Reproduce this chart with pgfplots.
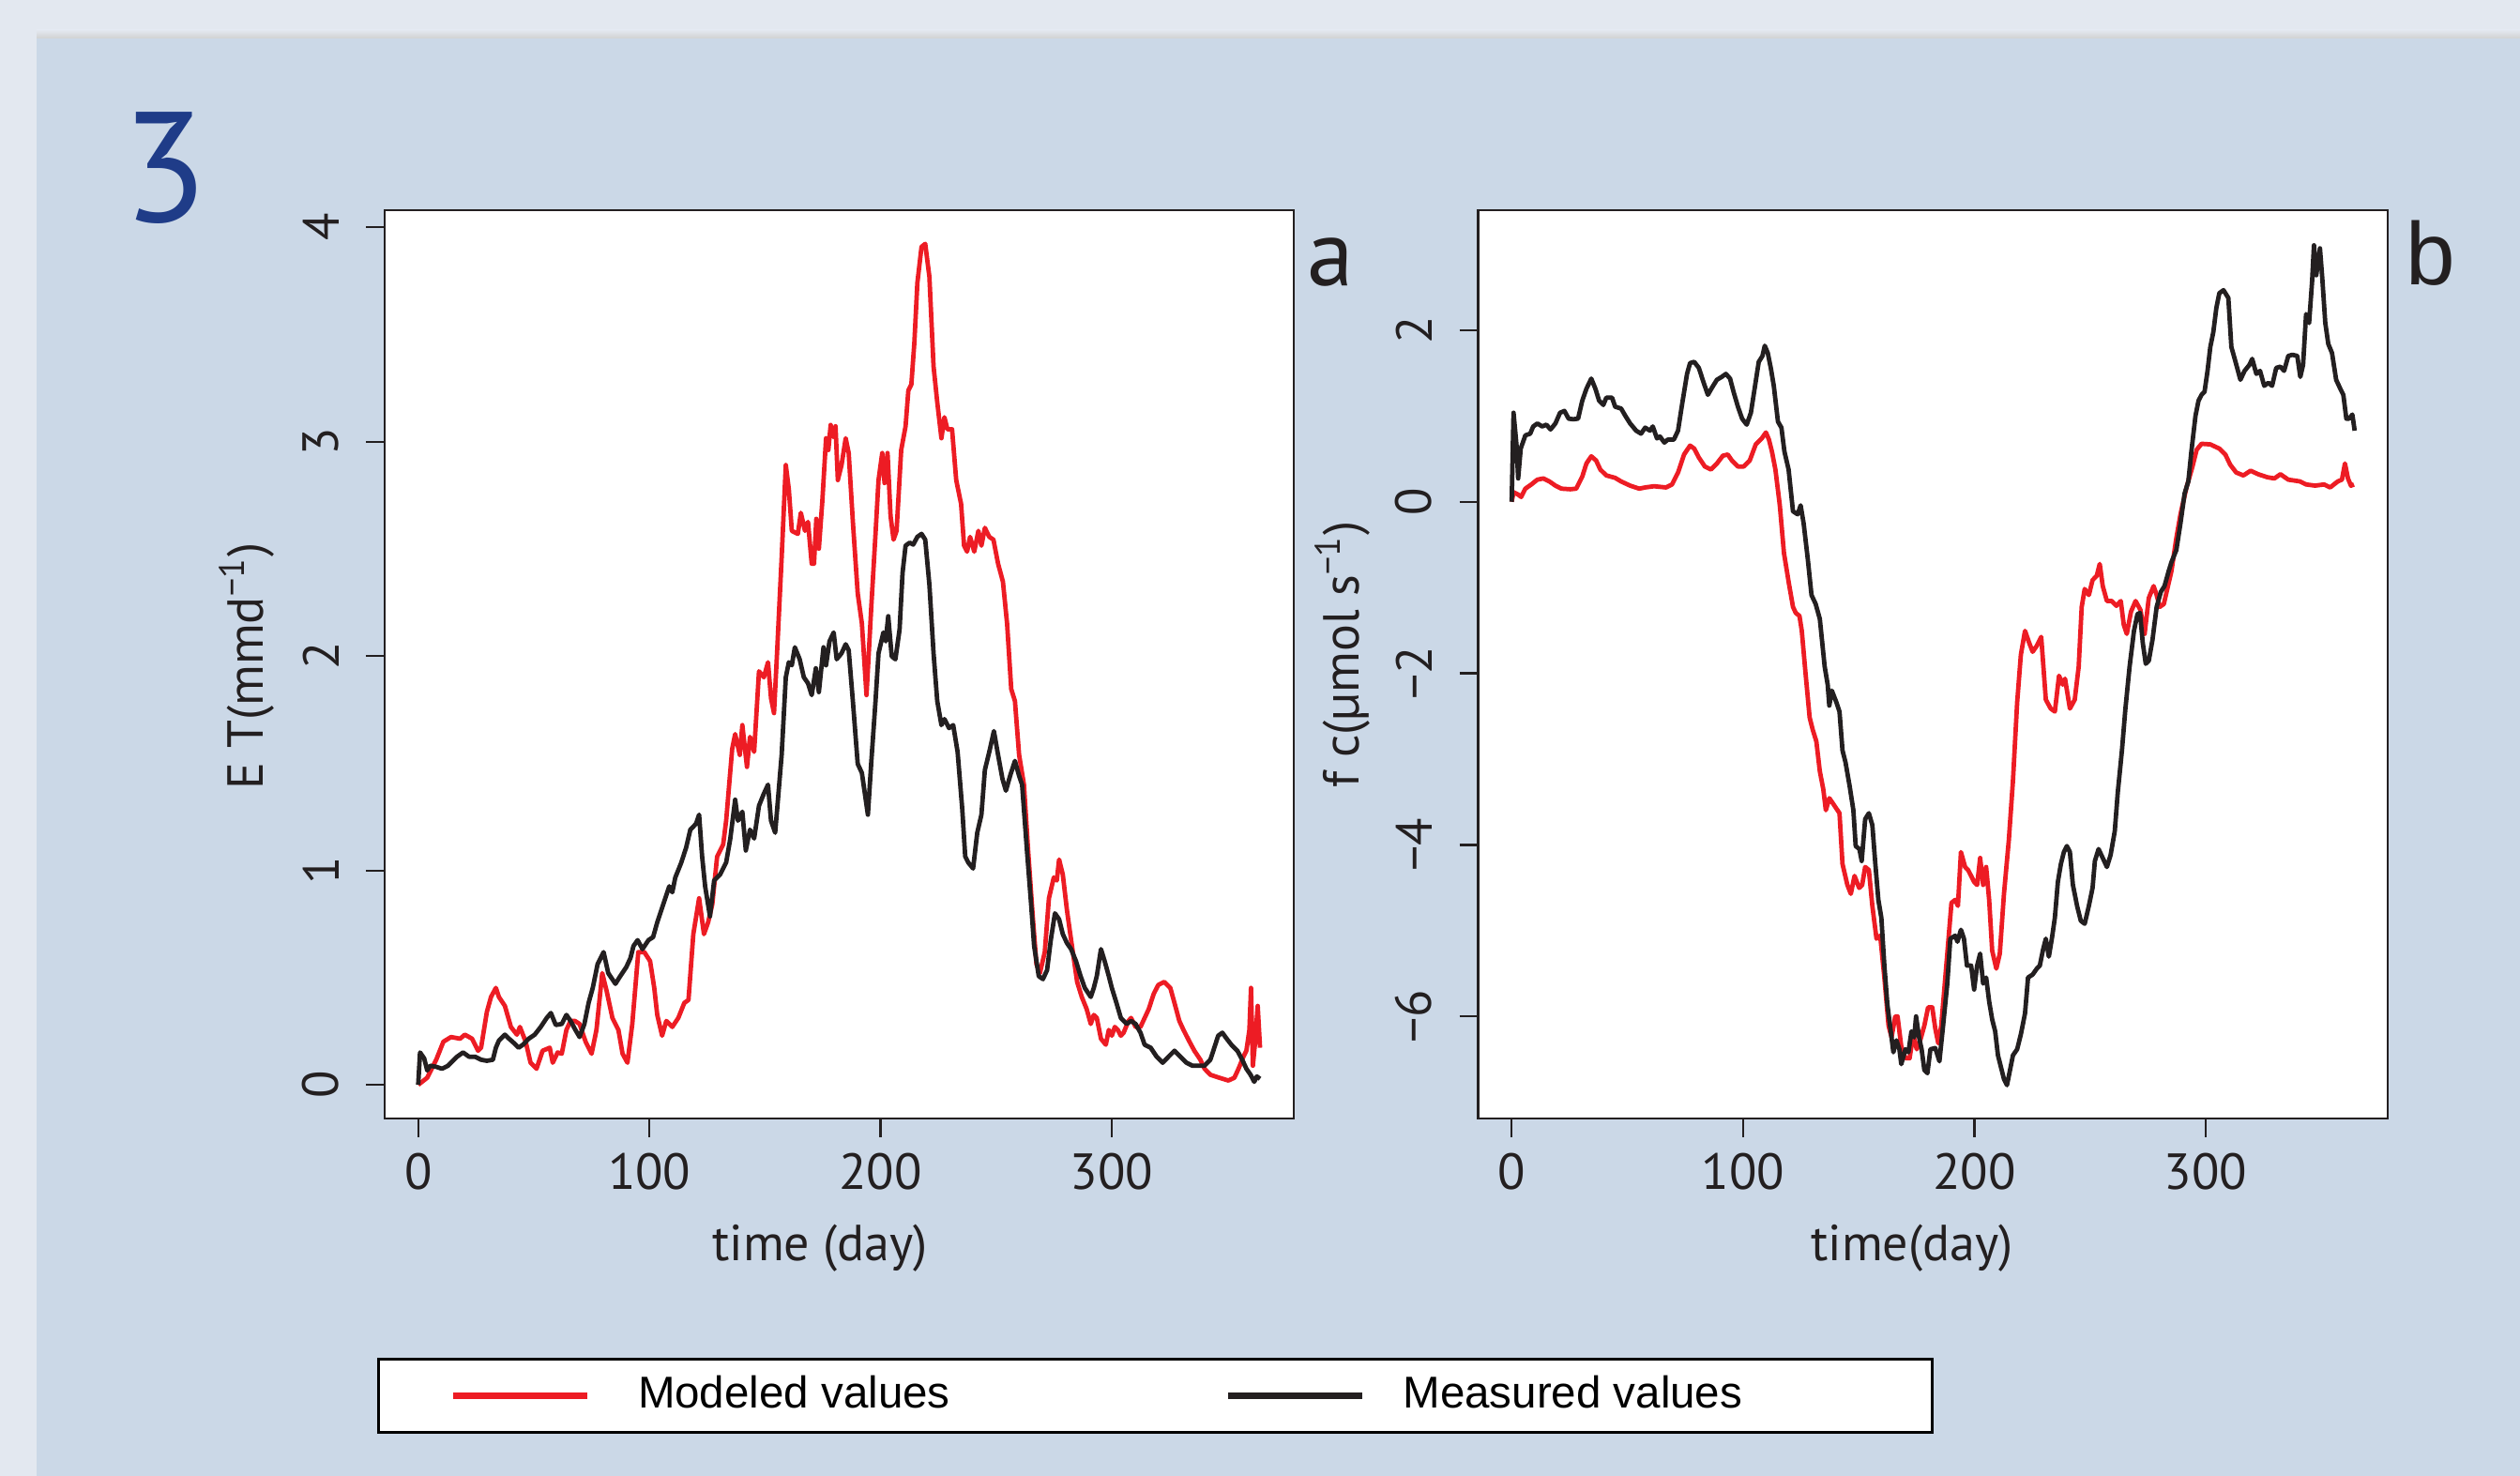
\documentclass[border=0pt]{standalone}
\usepackage{fontspec}
\setmainfont{PT Sans}
\newfontfamily\helv{Liberation Sans}
\usepackage{pgfplots}
\pgfplotsset{compat=1.18}

\definecolor{panelblue}{HTML}{CBD8E7}
\definecolor{outergray}{HTML}{E3E8F0}
\definecolor{modred}{HTML}{ED1C24}
\definecolor{measblack}{HTML}{231F20}
\definecolor{numblue}{HTML}{1F3C88}

\pgfplotsset{
  panel/.style={
    scale only axis, width=193.8pt, height=193.6pt,
    anchor=south west,
    axis background/.style={fill=white},
    axis line style={line width=0.5pt, measblack},
    tick align=outside, major tick length=4pt,
    tick style={line width=0.45pt, measblack},
    xtick pos=left, ytick pos=left,
    xmin=-14.5, xmax=378.7, xtick={0,100,200,300},
    /pgf/number format/assume math mode=true,
    ticklabel style={font=\fontsize{10.8}{12}\selectfont, text=measblack},
    xticklabel style={inner sep=0pt, anchor=north},
    xticklabel shift=3.2pt,
    yticklabel style={rotate=90, anchor=south, inner sep=0pt},
    yticklabel shift=5.6pt,
    label style={font=\fontsize{10.8}{12}\selectfont, text=measblack, inner sep=0pt},
  }
}

\begin{document}
\begin{tikzpicture}
\useasboundingbox (0,0) rectangle (537.2pt,314.6pt);
\fill[outergray] (0,0) rectangle (537.2pt,314.6pt);
\shade[top color=outergray, bottom color=black!18] (7.8pt,306.4pt) rectangle (537.2pt,308.2pt);
\fill[panelblue] (7.8pt,0) rectangle (537.2pt,306.4pt);

% panel a: ET
\begin{axis}[panel, at={(82pt,76.2pt)},
    ymin=-0.157, ymax=4.08, ytick={0,1,2,3,4},
    xlabel={time (day)},
    xlabel style={at={(axis description cs:0.479,-0.157)}, anchor=base},
    ylabel={E T(mmd\textsuperscript{−1})},
    ylabel style={at={(axis description cs:-0.134,0.498)}, rotate=0, anchor=base},
    legend columns=2,
    legend cell align=left,
    legend image code/.code={\draw[#1, line width=1.3pt] (0pt,0pt) -- (28.6pt,0pt);},
    legend style={at={(-0.00826,-0.2634)}, anchor=north west, draw=black,
      line width=0.6pt, fill=white, inner xsep=15.2pt, inner ysep=3.6pt,
      font=\helv\fontsize{9.5}{11}\selectfont, nodes={inner sep=0pt},
      /tikz/every odd column/.append style={column sep=10.2pt},
      /tikz/every even column/.append style={column sep=26.6pt}},
  ]
\addplot[modred, line width=0.95pt, line join=round] coordinates {
(0,0) (3.9,0.033) (7.8,0.117) (10.9,0.201) (14.2,0.223) (18.1,0.215) (20.2,0.234) (23.3,0.215) (25.9,0.159) (27.2,0.173)
(29.7,0.340) (31.5,0.410) (33.6,0.452) (34.9,0.410) (37.5,0.368) (40.1,0.270) (42.7,0.234) (44.0,0.270) (46.5,0.201) (48.6,0.103)
(51.2,0.075) (53.8,0.159) (56.9,0.173) (58.2,0.103) (60.3,0.151) (62.1,0.145) (64.1,0.256) (65.9,0.298) (67.8,0.298) (69.8,0.284)
(72.4,0.201) (75.0,0.145) (77.1,0.256) (79.6,0.521) (81.5,0.438) (84.0,0.312) (86.6,0.256) (88.4,0.145) (90.5,0.103) (92.6,0.284)
(95.2,0.619) (97.8,0.619) (100.3,0.577) (102.1,0.452) (103.4,0.326) (105.5,0.229) (107.3,0.298) (109.9,0.270) (112.5,0.312) (115.1,0.382)
(116.9,0.396) (119.0,0.703) (121.5,0.870) (123.6,0.703) (125.4,0.758) (127.2,0.842) (129.3,1.065) (131.9,1.121) (133.2,1.232) (135.8,1.567)
(137.1,1.636) (139.1,1.539) (140.2,1.678) (142.2,1.483) (143.5,1.623) (145.3,1.553) (147.4,1.929) (149.5,1.901) (151.3,1.971) (152.6,1.804)
(153.9,1.734) (155.2,2.013) (157.2,2.459) (159.0,2.891) (160.3,2.779) (161.6,2.584) (164.2,2.570) (165.5,2.668) (167.3,2.584) (168.6,2.626)
(170.2,2.431) (171.2,2.431) (172.2,2.640) (173.3,2.501) (174.8,2.724) (176.4,3.016) (177.4,2.961) (178.4,3.078) (179.5,3.022) (180.5,3.072)
(181.5,2.821) (183.1,2.891) (184.9,3.016) (186.2,2.947) (188.0,2.626) (190.1,2.292) (191.9,2.152) (193.9,1.818) (196.0,2.236) (197.8,2.570)
(199.1,2.821) (200.7,2.947) (201.7,2.807) (203.0,2.947) (204.3,2.654) (205.6,2.543) (206.9,2.584) (208.9,2.961) (210.8,3.072) (212.0,3.239)
(213.3,3.267) (214.6,3.463) (215.9,3.741) (217.7,3.909) (219.3,3.923) (221.1,3.769) (222.9,3.351) (224.5,3.184) (226.3,3.016) (227.6,3.114)
(228.9,3.058) (230.9,3.058) (232.7,2.821) (234.8,2.710) (236.1,2.515) (237.4,2.487) (238.7,2.556) (240.5,2.487) (242.3,2.584) (243.6,2.515)
(245.1,2.598) (247.0,2.556) (248.8,2.543) (250.8,2.431) (252.9,2.347) (254.7,2.152) (256.5,1.846) (258.1,1.790) (259.9,1.539) (262.0,1.400)
(263.8,1.093) (265.8,0.786) (267.4,0.563) (268.9,0.521) (271.0,0.619) (272.8,0.870) (274.9,0.967) (276.2,0.953) (277.2,1.051) (278.8,0.981)
(280.6,0.814) (282.4,0.675) (285.0,0.480) (287.0,0.410) (289.1,0.354) (290.9,0.284) (292.2,0.326) (293.5,0.312) (295.3,0.215) (297.4,0.187)
(298.7,0.256) (300.0,0.229) (301.3,0.270) (302.6,0.256) (303.9,0.229) (305.1,0.243) (307.2,0.298) (308.3,0.312) (310.3,0.270) (312.4,0.270)
(314.2,0.312) (316.0,0.354) (318.1,0.424) (320.1,0.466) (322.7,0.480) (325.3,0.452) (327.1,0.382) (329.2,0.298) (331.0,0.256) (333.6,0.201)
(335.7,0.159) (338.3,0.117) (340.1,0.075) (342.6,0.047) (346.5,0.033) (350.4,0.020) (353.0,0.033) (354.8,0.075) (356.9,0.131) (358.2,0.159)
(359.5,0.256) (360.2,0.452) (361.0,0.089) (362.0,0.201) (363.1,0.368) (364.1,0.173)
};
\addlegendentry{\makebox[98.6pt][l]{Modeled values}}
\addplot[measblack, line width=0.95pt, line join=round] coordinates {
(0,0) (0.8,0.151) (2.6,0.123) (3.9,0.067) (5.2,0.089) (7.8,0.084) (10.3,0.075) (12.9,0.089) (15.0,0.112) (16.8,0.131)
(19.4,0.151) (22.0,0.131) (24.6,0.131) (27.2,0.117) (29.7,0.112) (32.3,0.117) (33.6,0.173) (34.9,0.206) (37.5,0.234) (39.3,0.215)
(41.4,0.195) (43.4,0.173) (45.3,0.187) (47.8,0.215) (50.4,0.234) (53.0,0.270) (55.6,0.312) (57.4,0.335) (59.5,0.279) (62.1,0.284)
(64.1,0.326) (65.9,0.298) (68.0,0.256) (69.8,0.223) (71.9,0.284) (73.7,0.382) (75.5,0.452) (77.6,0.563) (80.2,0.619) (82.2,0.521)
(85.3,0.471) (87.4,0.507) (90.0,0.549) (91.8,0.591) (93.1,0.647) (94.9,0.675) (97.0,0.633) (99.6,0.675) (101.6,0.689) (103.4,0.758)
(106.0,0.842) (108.6,0.926) (109.9,0.898) (111.2,0.967) (113.8,1.037) (115.9,1.107) (117.7,1.190) (120.2,1.218) (121.5,1.260) (122.8,1.065)
(124.1,0.926) (126.2,0.786) (128.0,0.953) (130.6,0.981) (133.2,1.037) (135.0,1.149) (137.1,1.330) (138.3,1.232) (140.2,1.274) (141.7,1.093)
(143.5,1.190) (145.3,1.149) (147.4,1.302) (149.5,1.358) (151.3,1.400) (152.6,1.232) (154.4,1.176) (155.7,1.344) (157.2,1.539) (159.0,1.901)
(160.3,1.971) (161.6,1.957) (162.9,2.041) (165.0,1.985) (166.8,1.901) (168.6,1.873) (170.2,1.818) (172.0,1.943) (173.3,1.832) (175.3,2.041)
(176.4,1.957) (177.9,2.069) (179.7,2.110) (181.0,1.985) (183.1,2.013) (184.9,2.055) (186.2,2.027) (188.0,1.790) (190.1,1.497) (191.9,1.455)
(194.5,1.260) (196.0,1.511) (197.8,1.790) (199.1,2.013) (201.2,2.110) (202.2,2.069) (203.3,2.186) (204.8,1.999) (206.4,1.985) (208.2,2.124)
(209.5,2.389) (210.8,2.515) (212.6,2.529) (214.1,2.520) (215.9,2.556) (217.7,2.570) (219.3,2.543) (221.1,2.333) (222.9,2.013) (224.5,1.790)
(226.3,1.678) (227.6,1.706) (229.6,1.664) (231.4,1.678) (233.3,1.553) (235.3,1.288) (236.6,1.065) (237.9,1.037) (240.0,1.009) (241.8,1.176)
(243.6,1.260) (245.1,1.469) (247.0,1.553) (249.0,1.650) (250.8,1.539) (252.7,1.427) (254.2,1.372) (256.0,1.441) (258.1,1.511) (259.9,1.441)
(261.2,1.400) (263.3,1.093) (265.1,0.842) (266.4,0.647) (268.4,0.507) (270.2,0.493) (272.0,0.535) (273.6,0.675) (275.4,0.800) (277.2,0.772)
(278.8,0.703) (280.6,0.661) (282.4,0.633) (284.5,0.577) (286.5,0.507) (288.3,0.452) (290.9,0.410) (292.2,0.452) (293.5,0.507) (295.3,0.633)
(296.9,0.577) (298.7,0.507) (300.0,0.452) (302.0,0.382) (303.9,0.312) (306.4,0.284) (308.3,0.298) (310.3,0.284) (312.4,0.243) (314.2,0.187)
(316.8,0.173) (319.4,0.131) (322.0,0.103) (324.5,0.131) (327.1,0.159) (329.7,0.131) (332.3,0.103) (334.9,0.089) (337.5,0.089) (340.1,0.089)
(342.6,0.117) (343.9,0.159) (346.0,0.229) (347.8,0.243) (349.7,0.215) (351.7,0.187) (354.3,0.159) (356.4,0.117) (358.2,0.075) (360.0,0.047)
(361.6,0.014) (362.7,0.039) (364.1,0.028)
};
\addlegendentry{\hspace*{-2.2pt}\makebox[97.6pt][l]{Measured values}}
\end{axis}

% panel b: fc
\begin{axis}[panel, at={(315.1pt,76.2pt)}, width=193.9pt,
    ymin=-7.19, ymax=3.40, ytick={-6,-4,-2,0,2},
    yticklabels={−6,−4,−2,0,2},
    xlabel={time(day)},
    xlabel style={at={(axis description cs:0.477,-0.157)}, anchor=base},
    ylabel={f c(µmol s\textsuperscript{−1})},
    ylabel style={at={(axis description cs:-0.1315,0.511)}, rotate=0, anchor=base},
  ]
\addplot[modred, line width=0.95pt, line join=round] coordinates {
(0,0) (0.8,0.111) (2.8,0.084) (4.1,0.056) (5.9,0.153) (8.5,0.202) (11.1,0.258) (13.7,0.272) (16.3,0.237) (18.9,0.188)
(21.5,0.153) (25.3,0.146) (27.9,0.153) (30.5,0.293) (32.3,0.446) (34.4,0.530) (36.5,0.481) (38.3,0.376) (40.9,0.307) (44.7,0.279)
(47.3,0.237) (51.2,0.188) (55.1,0.153) (57.7,0.167) (61.5,0.181) (66.7,0.167) (69.3,0.202) (71.9,0.341) (74.5,0.551) (77.1,0.655)
(78.9,0.620) (80.9,0.516) (83.5,0.411) (86.1,0.376) (88.7,0.446) (91.3,0.537) (93.4,0.551) (95.2,0.481) (97.8,0.411) (100.3,0.411)
(102.9,0.481) (105.5,0.669) (108.1,0.739) (109.9,0.808) (111.2,0.725) (112.5,0.585) (114.0,0.376) (115.9,-0.042) (117.7,-0.599) (119.8,-0.948)
(121.6,-1.226) (122.8,-1.296) (124.4,-1.331) (125.4,-1.505) (127.0,-1.993) (128.8,-2.516) (130.1,-2.655) (131.7,-2.794) (133.2,-3.143) (134.7,-3.352)
(135.8,-3.596) (137.3,-3.456) (139.1,-3.526) (141.7,-3.631) (143.0,-4.223) (145.1,-4.467) (146.6,-4.571) (148.2,-4.362) (150.2,-4.502) (151.5,-4.467)
(152.8,-4.258) (154.4,-4.293) (155.9,-4.711) (157.7,-5.094) (159.3,-5.059) (161.1,-5.547) (162.9,-6.105) (164.2,-6.244) (165.8,-6.000) (166.8,-6.000)
(168.4,-6.348) (170.2,-6.488) (172.0,-6.488) (173.6,-6.209) (175.1,-6.383) (176.6,-6.279) (178.4,-6.105) (180.0,-5.895) (181.8,-5.895) (183.1,-6.139)
(184.4,-6.314) (185.7,-6.105) (187.0,-5.686) (188.3,-5.268) (190.1,-4.676) (191.7,-4.641) (192.9,-4.711) (194.2,-4.084) (196.0,-4.258) (197.3,-4.293)
(198.6,-4.362) (199.9,-4.432) (201.2,-4.467) (202.5,-4.153) (203.8,-4.467) (205.1,-4.258) (206.4,-4.641) (207.7,-5.233) (209.5,-5.443) (211.0,-5.268)
(212.8,-4.571) (214.9,-3.944) (216.7,-3.247) (218.5,-2.341) (220.1,-1.784) (221.9,-1.505) (223.7,-1.645) (225.2,-1.749) (227.0,-1.679) (228.9,-1.575)
(230.9,-2.307) (233.0,-2.411) (234.8,-2.446) (236.6,-2.028) (238.2,-2.132) (239.2,-2.063) (241.3,-2.411) (243.4,-2.307) (245.1,-1.923) (246.4,-1.226)
(247.7,-1.017) (249.5,-1.087) (251.1,-0.913) (252.9,-0.864) (254.2,-0.725) (255.5,-0.983) (257.3,-1.157) (259.4,-1.157) (261.4,-1.213) (263.3,-1.157)
(264.6,-1.436) (265.9,-1.540) (267.7,-1.282) (269.7,-1.157) (271.8,-1.261) (273.6,-1.540) (275.4,-1.122) (277.5,-0.983) (278.8,-1.087) (280.1,-1.226)
(281.9,-1.192) (283.4,-1.017) (285.2,-0.808) (287.3,-0.425) (289.1,-0.146) (291.7,0.167) (294.3,0.411) (296.1,0.606) (298.2,0.676) (302.0,0.669)
(305.9,0.620) (308.5,0.551) (310.6,0.432) (313.2,0.341) (316.3,0.307) (319.4,0.362) (322.7,0.321) (326.6,0.286) (329.7,0.272) (332.3,0.321)
(335.7,0.258) (340.8,0.237) (343.4,0.202) (347.3,0.188) (351.2,0.202) (353.8,0.167) (357.1,0.237) (358.9,0.258) (360.2,0.446) (361.5,0.272)
(362.8,0.188) (364.1,0.202)
};
\addplot[measblack, line width=0.95pt, line join=round] coordinates {
(0,0) (0.8,1.038) (2.1,0.655) (2.8,0.272) (3.9,0.620) (5.9,0.774) (8.0,0.794) (9.3,0.878) (11.1,0.913) (13.2,0.878)
(15.0,0.899) (16.8,0.843) (18.9,0.913) (20.9,1.038) (22.8,1.059) (24.6,0.969) (26.6,0.962) (28.7,0.969) (30.5,1.178) (32.3,1.317)
(34.4,1.436) (36.2,1.317) (37.8,1.178) (39.6,1.129) (40.9,1.213) (43.4,1.213) (44.7,1.108) (47.3,1.087) (49.1,1.003) (51.2,0.913)
(53.8,0.829) (55.9,0.794) (57.7,0.864) (59.8,0.829) (61.0,0.878) (62.8,0.739) (64.1,0.760) (66.0,0.690) (67.5,0.725) (70.1,0.725)
(71.9,0.829) (73.7,1.143) (75.8,1.491) (77.1,1.617) (78.9,1.631) (80.9,1.561) (83.0,1.387) (84.8,1.247) (86.6,1.331) (88.7,1.422)
(90.8,1.456) (92.6,1.491) (94.4,1.436) (95.9,1.282) (97.8,1.108) (99.6,0.969) (101.6,0.899) (103.4,1.038) (105.0,1.317) (106.8,1.631)
(108.4,1.700) (109.4,1.819) (110.7,1.735) (112.0,1.561) (113.3,1.352) (115.1,0.934) (116.6,0.864) (117.9,0.585) (119.7,0.376) (121.6,-0.111)
(123.6,-0.146) (124.9,-0.042) (126.2,-0.251) (128.0,-0.669) (129.6,-1.087) (131.4,-1.192) (133.2,-1.366) (135.3,-1.923) (136.6,-2.132) (137.3,-2.376)
(138.4,-2.202) (140.4,-2.341) (141.7,-2.446) (143.0,-2.899) (144.3,-3.038) (146.1,-3.317) (147.7,-3.596) (148.7,-4.014) (150.3,-4.049) (151.3,-4.188)
(152.8,-3.700) (154.4,-3.631) (155.9,-3.770) (157.2,-4.223) (158.5,-4.641) (159.8,-4.850) (161.1,-5.408) (162.4,-5.861) (163.7,-6.139) (165.0,-6.418)
(166.3,-6.279) (167.6,-6.383) (168.4,-6.557) (170.2,-6.383) (171.5,-6.418) (172.8,-6.174) (174.0,-6.244) (174.8,-6.000) (176.1,-6.244) (177.2,-6.383)
(178.4,-6.627) (179.7,-6.662) (181.0,-6.383) (183.1,-6.369) (184.9,-6.523) (186.5,-6.105) (188.3,-5.617) (189.6,-5.094) (191.7,-5.059) (192.7,-5.129)
(194.2,-4.990) (195.5,-5.094) (196.8,-5.408) (198.6,-5.408) (199.9,-5.686) (201.2,-5.408) (202.5,-5.268) (203.8,-5.617) (205.1,-5.547) (206.4,-5.826)
(207.7,-6.035) (209.0,-6.174) (210.2,-6.453) (211.5,-6.592) (212.8,-6.732) (214.1,-6.801) (215.4,-6.627) (216.7,-6.453) (218.5,-6.383) (220.1,-6.209)
(221.9,-5.965) (223.2,-5.547) (225.2,-5.512) (227.0,-5.443) (228.3,-5.408) (229.6,-5.233) (230.9,-5.094) (232.2,-5.303) (233.5,-5.094) (234.8,-4.850)
(236.1,-4.432) (237.4,-4.223) (238.7,-4.084) (240.0,-4.014) (241.3,-4.084) (242.6,-4.467) (244.4,-4.711) (246.0,-4.885) (247.7,-4.920) (249.5,-4.711)
(251.1,-4.502) (252.1,-4.188) (253.7,-4.049) (255.5,-4.153) (257.3,-4.258) (258.9,-4.118) (260.7,-3.840) (262.0,-3.387) (263.8,-2.899) (265.3,-2.411)
(267.1,-1.923) (269.0,-1.505) (270.5,-1.310) (271.6,-1.296) (272.8,-1.645) (274.1,-1.889) (275.4,-1.854) (277.0,-1.610) (278.8,-1.226) (280.6,-1.052)
(282.2,-0.983) (284.0,-0.808) (285.2,-0.704) (287.3,-0.564) (289.1,-0.251) (290.9,0.098) (292.5,0.237) (293.8,0.585) (295.6,1.003) (296.9,1.178)
(298.2,1.247) (299.5,1.282) (300.8,1.526) (302.0,1.805) (303.3,1.979) (304.6,2.258) (305.9,2.432) (307.7,2.467) (309.8,2.376) (311.1,1.805)
(312.9,1.631) (315.0,1.422) (316.8,1.526) (318.9,1.596) (320.1,1.666) (321.9,1.491) (323.5,1.526) (325.3,1.352) (327.1,1.387) (328.7,1.352)
(330.5,1.561) (332.3,1.575) (333.9,1.526) (335.7,1.700) (337.5,1.714) (339.6,1.700) (340.9,1.456) (342.1,1.596) (343.4,2.188) (344.7,2.084)
(346.0,2.571) (346.8,2.990) (347.8,2.641) (349.4,2.955) (350.4,2.606) (351.7,2.084) (353.0,1.840) (354.6,1.735) (356.4,1.422) (358.2,1.317)
(359.5,1.247) (360.8,0.969) (362.0,0.969) (363.4,1.017) (364.4,0.829)
};
\end{axis}

\node[anchor=base, inner sep=0pt, text=numblue, font=\fontsize{33.4}{36}\selectfont] at (35.2pt,267.2pt) {3};
\node[anchor=base west, inner sep=0pt, text=measblack, font=\fontsize{20}{22}\selectfont] at (278.4pt,253.6pt) {a};
\node[anchor=base west, inner sep=0pt, text=measblack, font=\helv\fontsize{18.9}{20}\selectfont] at (512.6pt,253.8pt) {b};
\end{tikzpicture}
\end{document}
